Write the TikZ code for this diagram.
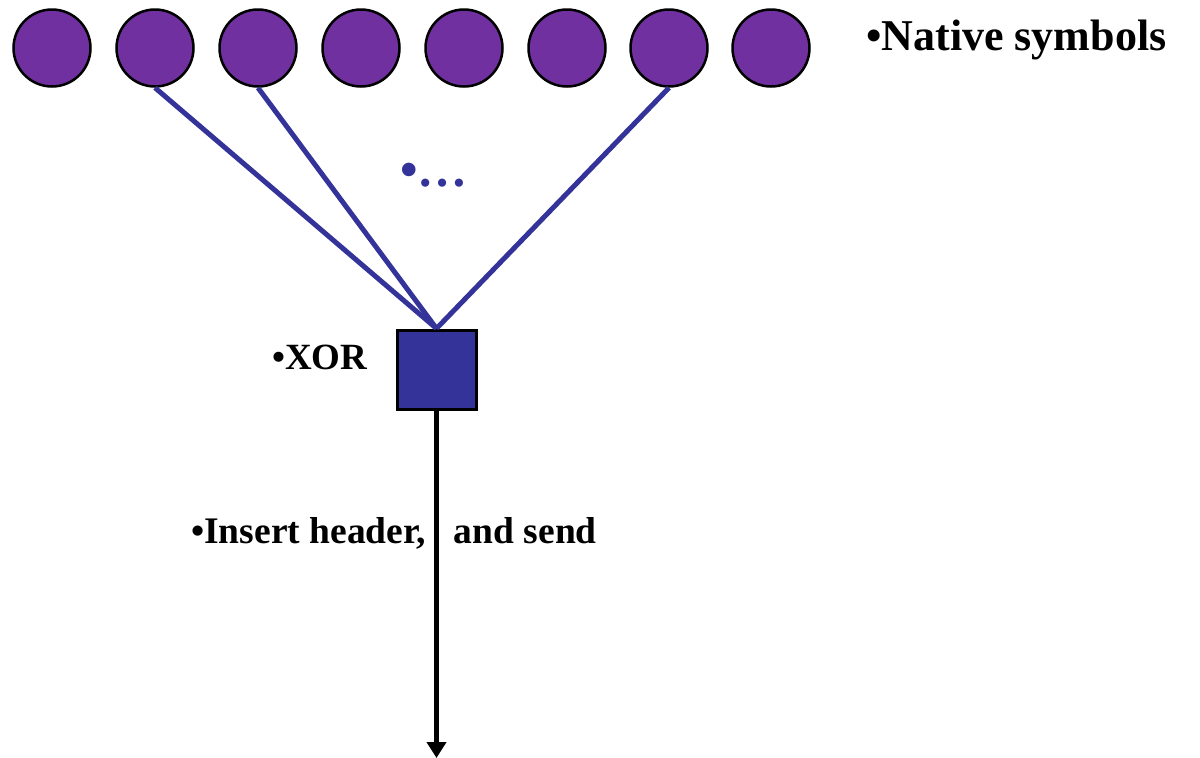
\documentclass[tikz,border=0pt]{standalone}
\usepackage{fontspec}
\setmainfont{Liberation Serif}
\usetikzlibrary{arrows.meta}
\definecolor{symfill}{HTML}{7030A0}
\definecolor{xorblue}{HTML}{333399}
\begin{document}
\begin{tikzpicture}[x=1pt,y=-1pt,
  symbol/.style={circle,draw=black,line width=2.5pt,fill=symfill,minimum size=77pt,inner sep=0pt},
  xorbox/.style={rectangle,draw=black,line width=3pt,fill=xorblue,minimum size=79pt,inner sep=0pt},
  link/.style={draw=xorblue,line width=5pt},
  label/.style={font=\bfseries,inner sep=0pt,anchor=base west}]
\useasboundingbox (0,0) rectangle (1200,758);
% native symbols
\foreach \i/\x in {1/52,2/155,3/258,4/361,5/464,6/567,7/669,8/771}
  \node[symbol] (c\i) at (\x,48) {};
% XOR box
\node[xorbox] (xor) at (436.5,369.5) {};
% connections into the XOR
\draw[link] (c2.south) -- (xor.north);
\draw[link] (c3.south) -- (xor.north);
\draw[link] (c7.south) -- (xor.north);
% output
\coordinate (out) at (436.5,758);
\draw[line width=5pt,-{Triangle[length=16pt,width=19pt]}] (xor.south) -- (out);
% labels
\node[label,font=\fontsize{44}{48}\selectfont\bfseries] (nat) at (866,50) {•Native symbols};
\node[label,font=\fontsize{50}{54}\selectfont\bfseries,text=xorblue] (dots) at (400,186) {•…};
\node[label,font=\fontsize{37}{40}\selectfont\bfseries] (xl) at (272,369) {•XOR};
\node[label,font=\fontsize{37.5}{40}\selectfont\bfseries] (ins) at (191,543) {•Insert header,\hspace{0.75em}and send};
\end{tikzpicture}
\end{document}
